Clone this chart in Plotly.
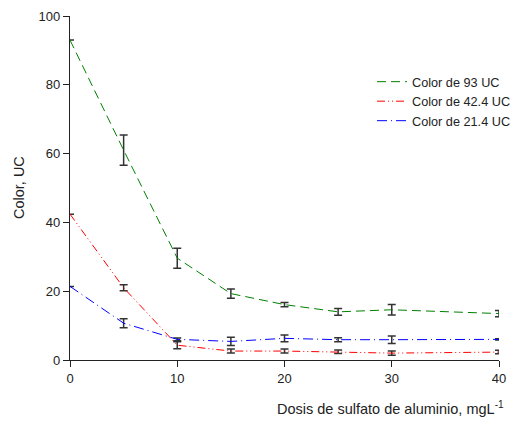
import plotly.graph_objects as go

dose = [0, 5, 10, 15, 20, 25, 30, 40]
series_names = ["Color de 93 UC", "Color de 42.4 UC", "Color de 21.4 UC"]
color_93 = [93.0, 61.0, 29.6, 19.3, 16.1, 14.0, 14.6, 13.5]
err_93 = [0.0, 4.4, 2.9, 1.35, 0.65, 1.0, 1.5, 0.9]
color_42 = [42.4, 21.0, 4.3, 2.6, 2.6, 2.4, 2.0, 2.3]
err_42 = [0.0, 0.9, 1.0, 0.6, 0.6, 0.5, 0.6, 0.5]
color_21 = [21.4, 10.7, 6.0, 5.4, 6.3, 5.9, 5.9, 6.0]
err_21 = [0.0, 1.3, 0.4, 1.2, 1.0, 0.6, 1.1, 0.2]

x_ticks = [0, 10, 20, 30, 40]
y_ticks = [0, 20, 40, 60, 80, 100]

font = "Liberation Sans, Arial, sans-serif"

styles = [
    ("#008000", "9px,5px"),
    ("#ff0000", "8px,3px,1px,3px,1px,3px"),
    ("#0000ff", "10px,4px,1px,4px"),
]

fig = go.Figure()
for name, ys, es, (col, dash) in zip(series_names, [color_93, color_42, color_21],
                                     [err_93, err_42, err_21], styles):
    fig.add_trace(go.Scatter(
        x=dose, y=ys, name=name, mode="lines",
        line=dict(color=col, width=1, dash=dash),
        error_y=dict(type="data", array=es, visible=True, color="#333333",
                     thickness=1.5, width=4),
    ))

fig.update_layout(
    width=524, height=423,
    margin=dict(l=70, r=8, t=16, b=63),
    paper_bgcolor="white", plot_bgcolor="white",
    font=dict(family=font, size=13, color="#222222"),
    showlegend=True,
    legend=dict(x=0.704, y=0.852, xanchor="left", yanchor="top",
                bgcolor="rgba(0,0,0,0)", borderwidth=0,
                font=dict(size=12.7, family=font, color="#222222")),
    xaxis=dict(range=[0, 40], tickvals=x_ticks, showgrid=False, zeroline=False,
               showline=True, linecolor="#222222", linewidth=1.3,
               ticks="outside", ticklen=6, tickcolor="#222222", tickwidth=1.3,
               tickfont=dict(size=13)),
    yaxis=dict(range=[0, 100], tickvals=y_ticks, showgrid=False, zeroline=False,
               showline=True, linecolor="#222222", linewidth=1.3,
               ticks="outside", ticklen=6, tickcolor="#222222", tickwidth=1.3,
               tickfont=dict(size=13)),
    annotations=[
        dict(text="Dosis de sulfato de aluminio, mgL<sup>-1</sup>", xref="paper", yref="paper",
             x=1.016, y=-0.14, xanchor="right", yanchor="middle", showarrow=False,
             font=dict(size=14.5, family=font, color="#222222")),
        dict(text="Color, UC", xref="paper", yref="paper", textangle=-90,
             x=(17 - 70) / 446, y=0.5, xanchor="center", yanchor="middle", showarrow=False,
             font=dict(size=14.5, family=font, color="#222222")),
    ],
)

fig.write_html(
    "out.html",
    config={"displayModeBar": False, "responsive": False},
    post_script="document.body.style.margin='0';document.body.style.overflow='hidden';",
)
